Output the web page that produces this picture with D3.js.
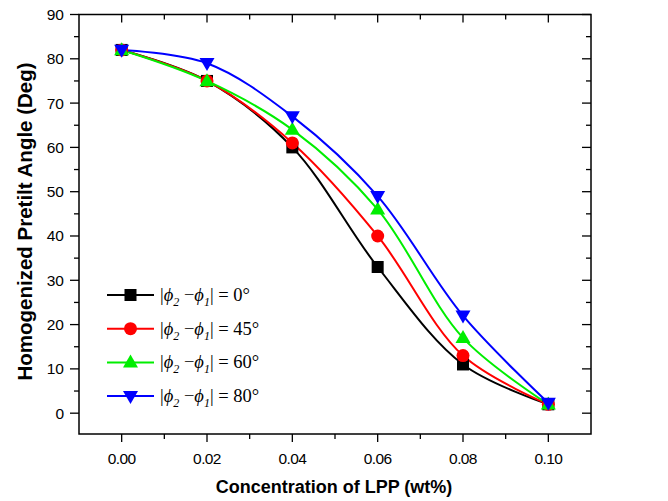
<!DOCTYPE html>
<html><head><meta charset="utf-8">
<script src="https://cdn.jsdelivr.net/npm/d3@7"></script>
<style>body{margin:0;background:#fff}svg{display:block}</style>
</head><body>
<svg id="c" width="668" height="501"></svg>
<script>
const concentrations = [0.00, 0.02, 0.04, 0.06, 0.08, 0.10];
const angles0  = [82, 75, 60, 33, 11, 2];
const angles45 = [82, 75, 61, 40, 13, 2];
const angles60 = [82, 75, 64, 46, 17, 2];
const angles80 = [82, 79, 67, 49, 22, 2.3];
const seriesNames = ["0°", "45°", "60°", "80°"];
const xTicks = [0.00, 0.02, 0.04, 0.06, 0.08, 0.10];
const yTicks = [0, 10, 20, 30, 40, 50, 60, 70, 80, 90];

const series = [
  {name: seriesNames[0], vals: angles0, color: "#000000", sym: "square"},
  {name: seriesNames[1], vals: angles45, color: "#ff0000", sym: "circle"},
  {name: seriesNames[2], vals: angles60, color: "#00ee00", sym: "up"},
  {name: seriesNames[3], vals: angles80, color: "#0000ff", sym: "down"}
];

const L = 79, R = 591, T = 14.5, B = 434;
const svg = d3.select("#c");
const x = d3.scaleLinear().domain([-0.01, 0.11]).range([L, R]);
const y = d3.scaleLinear().domain([-4.7, 90]).range([B, T]);

const axisFont = "Liberation Sans, Arial, sans-serif";

svg.append("rect").attr("x", L).attr("y", T).attr("width", R - L).attr("height", B - T)
  .attr("fill", "none").attr("stroke", "#000").attr("stroke-width", 1.5);

const g = svg.append("g").attr("stroke", "#000").attr("stroke-width", 1.3);
const tg = svg.append("g").attr("font-family", axisFont).attr("font-size", 15.5);

const xMinor = d3.range(-0.01, 0.1101, 0.01).filter(v => !xTicks.some(m => Math.abs(m - v) < 1e-6));
xTicks.forEach(v => {
  g.append("line").attr("x1", x(v)).attr("x2", x(v)).attr("y1", B).attr("y2", B + 8);
  g.append("line").attr("x1", x(v)).attr("x2", x(v)).attr("y1", T).attr("y2", T + 8);
  tg.append("text").attr("x", x(v)).attr("y", B + 30).attr("text-anchor", "middle")
    .attr("letter-spacing", -0.6).text(d3.format(".2f")(v));
});
xMinor.forEach(v => {
  if (x(v) <= L + 1 || x(v) >= R - 1) return;
  g.append("line").attr("x1", x(v)).attr("x2", x(v)).attr("y1", B).attr("y2", B + 5);
  g.append("line").attr("x1", x(v)).attr("x2", x(v)).attr("y1", T).attr("y2", T + 5);
});
yTicks.forEach(v => {
  g.append("line").attr("x1", L - 9).attr("x2", L).attr("y1", y(v)).attr("y2", y(v));
  g.append("line").attr("x1", R - 9).attr("x2", R).attr("y1", y(v)).attr("y2", y(v));
  tg.append("text").attr("x", L - 15).attr("y", y(v) + 5.5).attr("text-anchor", "end").text(v);
});
d3.range(5, 90, 10).forEach(v => {
  g.append("line").attr("x1", L - 5).attr("x2", L).attr("y1", y(v)).attr("y2", y(v));
  g.append("line").attr("x1", R - 5).attr("x2", R).attr("y1", y(v)).attr("y2", y(v));
});

svg.append("text").attr("x", 334).attr("y", 493).attr("text-anchor", "middle")
  .attr("font-family", axisFont).attr("font-weight", "bold").attr("font-size", 18)
  .text("Concentration of LPP (wt%)");
svg.append("text").attr("transform", `translate(32,221.5) rotate(-90)`).attr("text-anchor", "middle")
  .attr("font-family", axisFont).attr("font-weight", "bold").attr("font-size", 20.5)
  .text("Homogenized Pretilt Angle (Deg)");

function drawMarker(sel, s, cx, cy) {
  const h = 13, w = 15;
  if (s.sym === "up") {
    sel.append("path").attr("d", `M${cx},${cy - h * 0.6}L${cx + w / 2},${cy + h * 0.4}L${cx - w / 2},${cy + h * 0.4}Z`).attr("fill", s.color);
  } else if (s.sym === "down") {
    sel.append("path").attr("d", `M${cx},${cy + h * 0.6}L${cx + w / 2},${cy - h * 0.4}L${cx - w / 2},${cy - h * 0.4}Z`).attr("fill", s.color);
  } else if (s.sym === "square") {
    sel.append("rect").attr("x", cx - 6).attr("y", cy - 6).attr("width", 12).attr("height", 12).attr("fill", s.color);
  } else {
    sel.append("circle").attr("cx", cx).attr("cy", cy).attr("r", 6.5).attr("fill", s.color);
  }
}

const line = d3.line().x(d => x(d[0])).y(d => y(d[1])).curve(d3.curveCatmullRom.alpha(0.5));
series.forEach(s => {
  const pts = concentrations.map((c, i) => [c, s.vals[i]]);
  svg.append("path").attr("d", line(pts)).attr("fill", "none").attr("stroke", s.color).attr("stroke-width", 2);
});
series.forEach(s => {
  const mg = svg.append("g");
  concentrations.forEach((c, i) => drawMarker(mg, s, x(c), y(s.vals[i])));
});

const lg = svg.append("g");
const serif = "Liberation Serif, Times New Roman, serif";
series.forEach((s, i) => {
  const ly = 295 + i * 33.7;
  lg.append("line").attr("x1", 107).attr("x2", 154).attr("y1", ly).attr("y2", ly).attr("stroke", s.color).attr("stroke-width", 2);
  drawMarker(lg, s, 130.5, ly);
  const t = lg.append("text").attr("x", 160).attr("y", ly + 6).attr("font-family", serif).attr("font-size", 18.5);
  t.append("tspan").text("|");
  t.append("tspan").attr("font-style", "italic").text("ϕ");
  t.append("tspan").attr("font-style", "italic").attr("font-size", 12).attr("dy", 5).text("2");
  t.append("tspan").attr("dy", -5).text(" −");
  t.append("tspan").attr("font-style", "italic").text("ϕ");
  t.append("tspan").attr("font-style", "italic").attr("font-size", 12).attr("dy", 5).text("1");
  t.append("tspan").attr("dy", -5).text("| = " + s.name);
});
</script>
</body></html>
